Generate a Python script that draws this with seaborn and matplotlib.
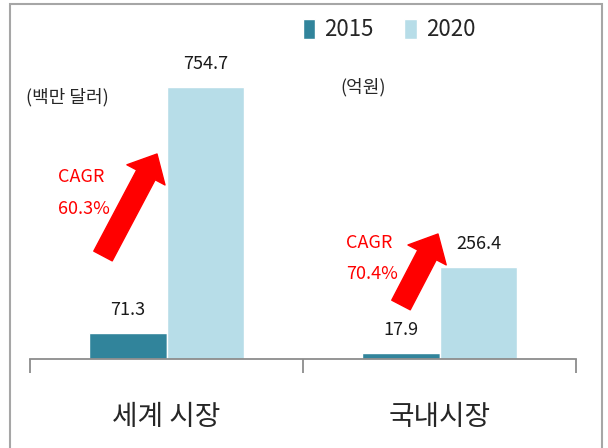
import matplotlib.pyplot as plt
import pandas as pd
import seaborn as sns
from matplotlib.patches import Rectangle

# data
markets = ['세계 시장', '국내시장']
years = ['2015', '2020']
v2015 = [71.3, 17.9]
v2020 = [754.7, 256.4]
units = ['(백만 달러)', '(억원)']
cagr = ['60.3%', '70.4%']

df = pd.DataFrame({
    'market': markets * 2,
    'year': [years[0]] * 2 + [years[1]] * 2,
    'value': v2015 + v2020,
})

sns.set_style('white')
plt.rcParams['font.family'] = ['Noto Sans CJK KR', 'DejaVu Sans']

W, H = 608, 448
def fpos(x, y):
    # pixel position from top-left -> figure fraction
    return (x / W, 1 - y / H)

fig = plt.figure(figsize=(W / 100, H / 100), dpi=100)
ax = fig.add_axes([30 / W, 89 / H, 546 / W, 339 / H])
sns.barplot(data=df, x='market', y='value', hue='year',
            palette=['#31849B', '#B7DDE8'], width=0.57, saturation=1,
            errorbar=None, ax=ax)

for cont in ax.containers:
    ax.bar_label(cont, fmt='%.1f', padding=10, fontsize=13, color='#1a1a1a')

ax.set_xlim(-0.5, 1.5)
ax.set_ylim(0, 940.6)
ax.set_yticks([])
ax.set_xlabel('')
ax.set_ylabel('')
ax.set_xticks([-0.5, 0.5, 1.5], minor=True)
ax.tick_params(axis='x', which='minor', bottom=True, length=10, width=1.3,
               color='#8c8c8c', direction='out')
ax.tick_params(axis='x', which='major', length=0, pad=31, labelsize=20)
for s in ['left', 'top', 'right']:
    ax.spines[s].set_visible(False)
ax.spines['bottom'].set_color('#8c8c8c')
ax.spines['bottom'].set_linewidth(1.3)

# legend
handles, labels = ax.get_legend_handles_labels()
ax.legend(handles, labels, loc='center', bbox_to_anchor=fpos(389, 30),
          bbox_transform=fig.transFigure, ncol=2, frameon=False, fontsize=16,
          handlelength=0.55, handleheight=1.0, columnspacing=1.4, handletextpad=0.4)

# unit notes
fig.text(*fpos(67, 97), units[0], ha='center', va='center', fontsize=13)
fig.text(*fpos(363, 87), units[1], ha='center', va='center', fontsize=13)

# CAGR notes and arrows
fig.text(*fpos(58, 177), 'CAGR', ha='left', va='center', fontsize=13, color='#ff0000')
fig.text(*fpos(58, 209), cagr[0], ha='left', va='center', fontsize=13, color='#ff0000')
fig.text(*fpos(346, 243), 'CAGR', ha='left', va='center', fontsize=13, color='#ff0000')
fig.text(*fpos(346, 274), cagr[1], ha='left', va='center', fontsize=13, color='#ff0000')

arrow = dict(arrowstyle='simple,head_length=1.7,head_width=3.1,tail_width=1.5',
             mutation_scale=10, color='#ff0000', shrinkA=0, shrinkB=0)
ax.annotate('', xy=fpos(157, 154), xytext=fpos(103, 256),
            xycoords='figure fraction', textcoords='figure fraction', arrowprops=arrow)
ax.annotate('', xy=fpos(438, 234), xytext=fpos(401, 305),
            xycoords='figure fraction', textcoords='figure fraction', arrowprops=arrow)

# outer frame
fig.add_artist(Rectangle((10 / W, -0.01), 592 / W, 444 / H + 0.01,
                         transform=fig.transFigure, fill=False,
                         edgecolor='#a6a6a6', lw=1.5))

fig.savefig('out.png', dpi=100)
